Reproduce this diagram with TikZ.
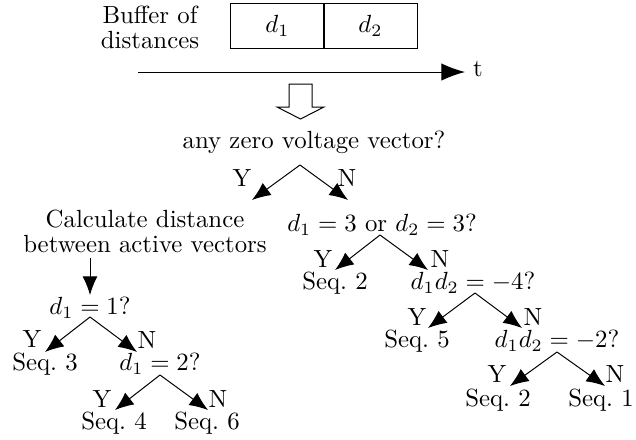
\documentclass[tikz,border=0pt]{standalone}
\usetikzlibrary{arrows.meta}
\begin{document}
\begin{tikzpicture}[
        x=0.403pt, y=-0.403pt,
        font=\fontsize{10}{10}\selectfont,
        txt/.style={inner sep=0pt, align=center},
        yn/.style={inner sep=0pt},
        cell/.style={draw, inner sep=0pt, minimum width=37.5pt, minimum height=18.5pt},
        branch/.style={-{Latex[length=7.5pt,width=6pt]}},
        taxis/.style={-{Latex[length=9.5pt,width=7pt]}}
    ]
    \useasboundingbox (0,0) rectangle (636,439);

    % --- Buffer and time axis ---
    \node[txt] (buf) at (150,27) {Buffer of\\distances};
    \node[cell] (d1) at (277.5,26) {$d_1$};
    \node[cell] (d2) at (370.5,26) {$d_2$};
    \coordinate (t0) at (138,72);
    \coordinate (t1) at (465,72);
    \draw[taxis] (t0) -- (t1);
    \node[txt] (tlab) at (478,69) {t};

    % hollow arrow
    \draw (289,84) -- (312,84) -- (312,107) -- (324,107) -- (300.5,119)
        -- (277,107) -- (289,107) -- cycle;

    % --- First question ---
    \node[txt] (any) at (314,142) {any zero voltage vector?};
    \coordinate (anyA) at (300,165);
    \coordinate (anyY) at (252,200);
    \coordinate (anyN) at (348,200);
    \draw[branch] (anyA) -- (anyY);
    \draw[branch] (anyA) -- (anyN);
    \node[yn] (anyYl) at (242,178) {Y};
    \node[yn] (anyNl) at (347,178) {N};

    % --- Left branch ---
    \node[txt] (calc) at (145,231) {Calculate distance\\between active vectors};
    \coordinate (calcA) at (90,258);
    \coordinate (calcB) at (90,295);
    \draw[branch] (calcA) -- (calcB);

    \node[txt] (qa) at (90,308) {$d_1=1$?};
    \coordinate (qaA) at (90,317);
    \coordinate (qaY) at (45,352);
    \coordinate (qaN) at (137,352);
    \draw[branch] (qaA) -- (qaY);
    \draw[branch] (qaA) -- (qaN);
    \node[yn] (qaYl) at (32,339) {Y};
    \node[yn] (qaNl) at (147,340) {N};

    \node[txt] (s3) at (45,364) {Seq.~3};
    \node[txt] (qb) at (160,364) {$d_1=2$?};
    \coordinate (qbA) at (160,375);
    \coordinate (qbY) at (115,410);
    \coordinate (qbN) at (208,410);
    \draw[branch] (qbA) -- (qbY);
    \draw[branch] (qbA) -- (qbN);
    \node[yn] (qbYl) at (102,399) {Y};
    \node[yn] (qbNl) at (218,399) {N};

    \node[txt] (s4) at (114,423) {Seq.~4};
    \node[txt] (s6) at (207,423) {Seq.~6};

    % --- Right branch ---
    \node[txt] (qc) at (382,225) {$d_1=3$ or $d_2=3$?};
    \coordinate (qcA) at (380,235);
    \coordinate (qcY) at (335,270);
    \coordinate (qcN) at (428,270);
    \draw[branch] (qcA) -- (qcY);
    \draw[branch] (qcA) -- (qcN);
    \node[yn] (qcYl) at (323,259) {Y};
    \node[yn] (qcNl) at (440,259) {N};

    \node[txt] (s2a) at (335,283) {Seq.~2};
    \node[txt] (qd) at (473,283) {$d_1d_2=-4$?};
    \coordinate (qdA) at (475,293);
    \coordinate (qdY) at (428,328);
    \coordinate (qdN) at (522,328);
    \draw[branch] (qdA) -- (qdY);
    \draw[branch] (qdA) -- (qdN);
    \node[yn] (qdYl) at (417,317) {Y};
    \node[yn] (qdNl) at (533,317) {N};

    \node[txt] (s5) at (417,341) {Seq.~5};
    \node[txt] (qe) at (557,341) {$d_1d_2=-2$?};
    \coordinate (qeA) at (557,352);
    \coordinate (qeY) at (510,386);
    \coordinate (qeN) at (605,386);
    \draw[branch] (qeA) -- (qeY);
    \draw[branch] (qeA) -- (qeN);
    \node[yn] (qeYl) at (497,374) {Y};
    \node[yn] (qeNl) at (615,374) {N};

    \node[txt] (s2b) at (498,400) {Seq.~2};
    \node[txt] (s1) at (601,400) {Seq.~1};

\end{tikzpicture}
\end{document}
